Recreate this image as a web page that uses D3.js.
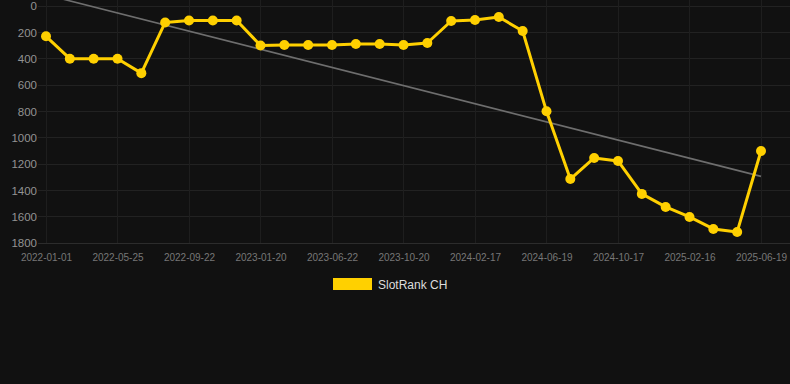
<!DOCTYPE html>
<html>
<head>
<meta charset="utf-8">
<script src="https://cdn.jsdelivr.net/npm/d3@7"></script>
<style>
  html, body { margin: 0; padding: 0; background: #111111; }
  svg { display: block; }
</style>
</head>
<body>
<svg id="chart" width="790" height="384"></svg>
<script>
// ---- data ----
const categories = [
  "2022-01-01","2022-02-18","2022-04-07","2022-05-25","2022-07-04","2022-08-13",
  "2022-09-22","2022-10-31","2022-12-11","2023-01-20","2023-03-11","2023-05-02",
  "2023-06-22","2023-08-01","2023-09-10","2023-10-20","2023-12-01","2024-01-09",
  "2024-02-17","2024-04-01","2024-05-10","2024-06-19","2024-07-29","2024-09-07",
  "2024-10-17","2024-11-26","2025-01-06","2025-02-16","2025-03-31","2025-05-10",
  "2025-06-19"
];
const rankValues = [
  230, 400, 400, 400, 510, 125, 110, 110, 110, 300, 296, 296, 296, 289, 289, 296,
  281, 114, 106, 84, 190, 800, 1314, 1154, 1177, 1427, 1526, 1602, 1693, 1716, 1101
];
const yTicks = [0, 200, 400, 600, 800, 1000, 1200, 1400, 1600, 1800];
const xTickLabels = [
  "2022-01-01","2022-05-25","2022-09-22","2023-01-20","2023-06-22","2023-10-20",
  "2024-02-17","2024-06-19","2024-10-17","2025-02-16","2025-06-19"
];
const seriesName = "SlotRank CH";

// ---- layout ----
const svg = d3.select("#chart");
const plot = { left: 38, right: 790, top: 6, bottom: 243 };

const x = d3.scalePoint().domain(categories).range([46, 761]);
const y = d3.scaleLinear().domain([0, 1800]).range([plot.top, plot.bottom]);

// grid
const grid = svg.append("g");
grid.selectAll("line.h").data(yTicks.slice(0, -1)).enter().append("line")
  .attr("x1", plot.left).attr("x2", plot.right)
  .attr("y1", d => y(d)).attr("y2", d => y(d))
  .attr("stroke", "#222222").attr("stroke-width", 1).attr("shape-rendering", "crispEdges");
grid.selectAll("line.v").data(xTickLabels).enter().append("line")
  .attr("x1", d => x(d)).attr("x2", d => x(d))
  .attr("y1", 0).attr("y2", plot.bottom)
  .attr("stroke", "#1e1e1e").attr("stroke-width", 1).attr("shape-rendering", "crispEdges");
svg.append("line")
  .attr("x1", plot.left).attr("x2", plot.right)
  .attr("y1", y(1800)).attr("y2", y(1800))
  .attr("stroke", "#2c2c2c").attr("stroke-width", 1).attr("shape-rendering", "crispEdges");

// y axis
const yAxis = d3.axisLeft(y).tickValues(yTicks).tickFormat(d3.format("d")).tickSize(0).tickPadding(0);
const gy = svg.append("g").attr("transform", `translate(37,0)`).call(yAxis);
gy.select(".domain").remove();
gy.selectAll("text")
  .attr("fill", "#939393")
  .style("font-family", "'Liberation Sans', Arial, sans-serif")
  .style("font-size", "11.5px");

// x axis
const xAxis = d3.axisBottom(x).tickValues(xTickLabels).tickSize(0).tickPadding(0);
const gx = svg.append("g").attr("transform", `translate(0,${plot.bottom + 11})`).call(xAxis);
gx.select(".domain").remove();
gx.selectAll("text")
  .attr("fill", "#777777")
  .attr("dy", "0.71em")
  .style("font-family", "'Liberation Sans', Arial, sans-serif")
  .style("font-size", "10px");

// trend line (least squares over the series)
const n = rankValues.length;
const idx = d3.range(n);
const mi = d3.mean(idx), mv = d3.mean(rankValues);
const slope = d3.sum(idx, i => (i - mi) * (rankValues[i] - mv)) / d3.sum(idx, i => (i - mi) ** 2);
const icpt = mv - slope * mi;
svg.append("line")
  .attr("x1", x(categories[0])).attr("y1", y(icpt))
  .attr("x2", x(categories[n - 1])).attr("y2", y(icpt + slope * (n - 1)))
  .attr("stroke", "#6e6e6e").attr("stroke-width", 1.6);

// series line
const yellow = "#FFD000";
const line = d3.line().x((d, i) => x(categories[i])).y(d => y(d));
svg.append("path").datum(rankValues)
  .attr("d", line).attr("fill", "none")
  .attr("stroke", yellow).attr("stroke-width", 3)
  .attr("stroke-linejoin", "round");
svg.selectAll("circle.pt").data(rankValues).enter().append("circle")
  .attr("cx", (d, i) => x(categories[i])).attr("cy", d => y(d))
  .attr("r", 5).attr("fill", yellow);

// legend
const lg = svg.append("g");
lg.append("rect").attr("x", 333).attr("y", 278).attr("width", 39).attr("height", 12)
  .attr("fill", yellow);
lg.append("text").attr("x", 378).attr("y", 289)
  .attr("fill", "#dddddd")
  .style("font-family", "'Liberation Sans', Arial, sans-serif")
  .style("font-size", "12px")
  .text(seriesName);
</script>
</body>
</html>
